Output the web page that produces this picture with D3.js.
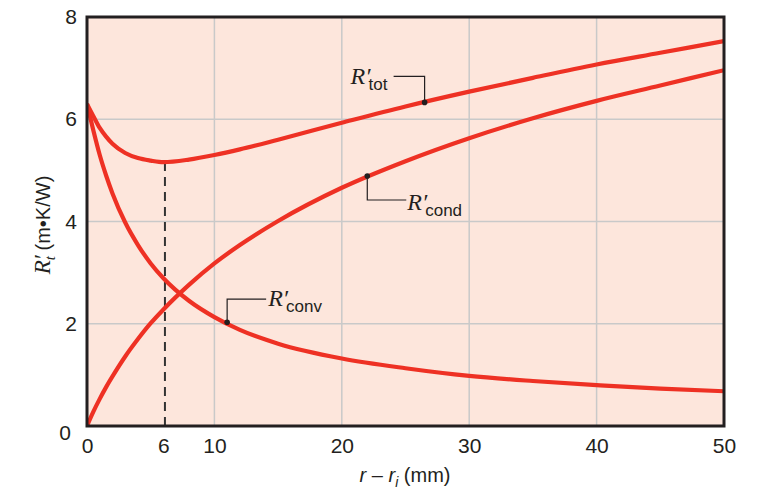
<!DOCTYPE html>
<html><head><meta charset="utf-8">
<script src="https://cdn.jsdelivr.net/npm/d3@7"></script>
<style>body{margin:0;background:#fff}svg{display:block}</style>
</head><body><svg id="c" width="770" height="494"></svg>
<script>
// ---- data ----
const xValues = [0, 0.5, 1, 1.5, 2, 3, 4, 5, 6, 8, 10, 12, 15, 20, 25, 30, 35, 40, 45, 50];
const convValues = [6.30, 5.78, 5.30, 4.90, 4.55, 3.98, 3.54, 3.18, 2.89, 2.45, 2.13, 1.88, 1.61, 1.32, 1.13, 0.98, 0.88, 0.80, 0.73, 0.68];
const condValues = [0.00, 0.28, 0.53, 0.76, 0.97, 1.36, 1.70, 2.01, 2.28, 2.76, 3.18, 3.54, 4.01, 4.66, 5.18, 5.63, 6.02, 6.36, 6.66, 6.96];
const totValues = [6.30, 6.06, 5.83, 5.66, 5.52, 5.34, 5.24, 5.19, 5.16, 5.21, 5.30, 5.41, 5.60, 5.93, 6.25, 6.54, 6.81, 7.07, 7.30, 7.53];
const xTicks = [0, 6, 10, 20, 30, 40, 50];
const yTicks = [0, 2, 4, 6, 8];
const xGrid = [10, 20, 30, 40];
const yGrid = [2, 4, 6];
const criticalX = 6, criticalY = 5.16;
const labelNames = ["tot", "cond", "conv"];
const labelAnchorX = [26.5, 22, 11];
const labelAnchorY = [6.33, 4.89, 2.03];

// ---- layout ----
const svg = d3.select("#c");
const L = 87, R = 724, T = 17, B = 426;
const x = d3.scaleLinear().domain([0, 50]).range([L, R]);
const y = d3.scaleLinear().domain([0, 8]).range([B, T]);
const red = "#ee3124";

svg.append("rect").attr("x", L).attr("y", T).attr("width", R - L).attr("height", B - T).attr("fill", "#fde6dc");

svg.append("g").selectAll("line").data(xGrid).join("line")
  .attr("x1", d => x(d)).attr("x2", d => x(d)).attr("y1", T).attr("y2", B)
  .attr("stroke", "#c9c9c9").attr("stroke-width", 1.5);
svg.append("g").selectAll("line").data(yGrid).join("line")
  .attr("y1", d => y(d)).attr("y2", d => y(d)).attr("x1", L).attr("x2", R)
  .attr("stroke", "#c9c9c9").attr("stroke-width", 1.5);

// dashed critical line
svg.append("line").attr("x1", x(criticalX) + 1.5).attr("x2", x(criticalX) + 1.5)
  .attr("y1", y(0)).attr("y2", y(criticalY))
  .attr("stroke", "#333").attr("stroke-width", 2).attr("stroke-dasharray", "9,6");

svg.append("clipPath").attr("id", "cp").append("rect")
  .attr("x", L).attr("y", T).attr("width", R - L).attr("height", B - T);

const line = d3.line().x(d => x(d[0])).y(d => y(d[1])).curve(d3.curveMonotoneX);
[convValues, condValues, totValues].forEach(vals => {
  svg.append("path").datum(xValues.map((v, i) => [v, vals[i]]))
    .attr("d", line).attr("fill", "none").attr("stroke", red)
    .attr("stroke-width", 4.2).attr("clip-path", "url(#cp)");
});

// frame
svg.append("rect").attr("x", L).attr("y", T).attr("width", R - L).attr("height", B - T)
  .attr("fill", "none").attr("stroke", "#231f20").attr("stroke-width", 3);

// axes (labels only, no ticks)
const xAxis = d3.axisBottom(x).tickValues(xTicks).tickSize(0).tickPadding(8);
const gx = svg.append("g").attr("transform", `translate(0,${B + 3})`).call(xAxis);
gx.select(".domain").remove();
gx.selectAll("text").attr("font-family", "Liberation Sans, Arial, sans-serif").attr("font-size", 21).attr("fill", "#231f20").attr("dy", "0.78em");

const yAxis = d3.axisLeft(y).tickValues(yTicks).tickSize(0).tickPadding(10);
const gy = svg.append("g").attr("transform", `translate(${L},0)`).call(yAxis);
gy.select(".domain").remove();
gy.selectAll("text").attr("font-family", "Liberation Sans, Arial, sans-serif").attr("font-size", 21).attr("fill", "#231f20")
  .attr("dy", d => d === 0 ? "0.62em" : "0.32em").attr("dx", d => d === 0 ? "-6" : "0");

// axis titles
const xt = svg.append("text").attr("x", 405).attr("y", 482).attr("text-anchor", "middle")
  .attr("font-family", "Liberation Sans, Arial, sans-serif").attr("font-size", 20).attr("fill", "#231f20");
xt.append("tspan").attr("font-style", "italic").text("r");
xt.append("tspan").text(" – ");
xt.append("tspan").attr("font-style", "italic").text("r");
xt.append("tspan").attr("font-style", "italic").attr("font-size", 14).attr("dy", 5).text("i");
xt.append("tspan").attr("dy", -5).text(" (mm)");

const yt = svg.append("text").attr("transform", "translate(50,225) rotate(-90)").attr("text-anchor", "middle")
  .attr("font-family", "Liberation Sans, Arial, sans-serif").attr("font-size", 20).attr("fill", "#231f20");
yt.append("tspan").attr("font-family", "Liberation Serif, Times New Roman, serif").attr("font-style", "italic").attr("font-size", 23).text("R′");
yt.append("tspan").attr("font-family", "Liberation Serif, Times New Roman, serif").attr("font-style", "italic").attr("font-size", 15).attr("dy", 5).attr("dx", -5).text("t");
yt.append("tspan").attr("dy", -5).text(" (m•K/W)");

// curve labels with leaders
const leaders = [
  {v: -26, h: -31, tx: -74, ty: -18},
  {v: 24, h: 39, tx: 40, ty: 34},
  {v: -23, h: 39, tx: 41, ty: -16}
];
labelNames.forEach((nm, i) => {
  const px = x(labelAnchorX[i]), py = y(labelAnchorY[i]);
  const o = leaders[i];
  svg.append("path").attr("d", `M${px},${py}V${py + o.v}H${px + o.h}`)
    .attr("fill", "none").attr("stroke", "#231f20").attr("stroke-width", 1.2);
  svg.append("circle").attr("cx", px).attr("cy", py).attr("r", 2.8).attr("fill", "#231f20");
  const t = svg.append("text").attr("x", px + o.tx).attr("y", py + o.ty).attr("fill", "#231f20");
  t.append("tspan").attr("font-family", "Liberation Serif, Times New Roman, serif").attr("font-style", "italic").attr("font-size", 24).text("R′");
  t.append("tspan").attr("font-family", "Liberation Sans, Arial, sans-serif").attr("font-size", 17).attr("dy", 6).attr("dx", -2).text(nm);
});
</script></body></html>
